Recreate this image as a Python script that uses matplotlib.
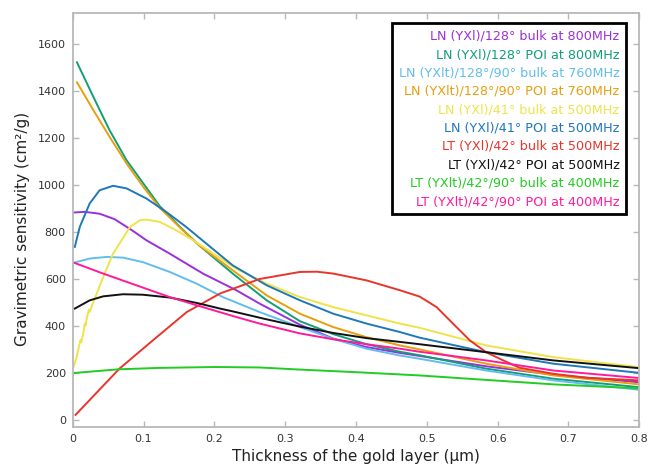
import matplotlib
matplotlib.use('Agg')
import matplotlib.pyplot as plt

# thickness of the gold layer (um) and gravimetric sensitivity (cm2/g)
ln128_bulk_x = [0.0, 0.017, 0.038, 0.059, 0.085, 0.104, 0.137, 0.184, 0.231, 0.264, 0.321, 0.368, 0.415, 0.462, 0.49, 0.584, 0.679, 0.8]
ln128_bulk_y = [883, 886, 878, 855, 805, 765, 708, 623, 552, 495, 405, 346, 310, 285, 272, 228, 192, 160]

ln128_poi_x = [0.006, 0.029, 0.052, 0.076, 0.099, 0.123, 0.156, 0.179, 0.226, 0.274, 0.321, 0.368, 0.415, 0.462, 0.49, 0.584, 0.679, 0.8]
ln128_poi_y = [1523, 1377, 1234, 1106, 1010, 910, 808, 742, 623, 509, 420, 365, 322, 290, 275, 218, 175, 139]

ln128_90_bulk_x = [0.0, 0.024, 0.048, 0.071, 0.099, 0.137, 0.175, 0.212, 0.264, 0.321, 0.368, 0.415, 0.462, 0.49, 0.584, 0.679, 0.8]
ln128_90_bulk_y = [668, 687, 694, 691, 672, 630, 580, 523, 459, 395, 345, 303, 274, 260, 210, 168, 128]

ln128_90_poi_x = [0.006, 0.029, 0.052, 0.076, 0.099, 0.123, 0.156, 0.179, 0.226, 0.274, 0.321, 0.368, 0.415, 0.462, 0.49, 0.584, 0.679, 0.8]
ln128_90_poi_y = [1438, 1320, 1206, 1092, 995, 903, 806, 742, 637, 530, 452, 395, 352, 317, 300, 239, 189, 151]

ln41_bulk_x = [0.001, 0.005, 0.009, 0.011, 0.012, 0.015, 0.017, 0.018, 0.020, 0.023, 0.024, 0.029, 0.043, 0.057,
               0.069, 0.081, 0.095, 0.104, 0.123, 0.146, 0.17, 0.231, 0.274, 0.321, 0.368, 0.415, 0.462, 0.49, 0.584, 0.679, 0.8]
ln41_bulk_y = [225, 260, 315, 340, 330, 370, 410, 400, 435, 470, 460, 500, 608, 708,
               765, 822, 850, 853, 843, 808, 765, 644, 580, 523, 480, 445, 410, 392, 317, 267, 224]

ln41_poi_x = [0.003, 0.01, 0.024, 0.038, 0.057, 0.076, 0.104, 0.132, 0.161, 0.179, 0.226, 0.274, 0.321, 0.368, 0.415, 0.462, 0.49, 0.584, 0.679, 0.8]
ln41_poi_y = [737, 822, 922, 978, 997, 986, 943, 886, 820, 775, 658, 573, 509, 452, 410, 374, 350, 288, 239, 200]

lt42_bulk_x = [0.004, 0.066, 0.113, 0.161, 0.208, 0.264, 0.321, 0.345, 0.368, 0.415, 0.462, 0.49, 0.514, 0.537, 0.561, 0.584, 0.608, 0.631, 0.679, 0.726, 0.8]
lt42_bulk_y = [21, 218, 338, 459, 538, 600, 630, 631, 623, 594, 552, 525, 480, 410, 338, 288, 253, 222, 196, 179, 168]

lt42_poi_x = [0.003, 0.024, 0.043, 0.071, 0.099, 0.137, 0.175, 0.208, 0.226, 0.274, 0.321, 0.368, 0.415, 0.462, 0.49, 0.584, 0.679, 0.8]
lt42_poi_y = [474, 509, 526, 535, 533, 521, 498, 474, 462, 428, 397, 370, 348, 332, 322, 288, 253, 220]

lt42_90_bulk_x = [0.0, 0.064, 0.12, 0.2, 0.264, 0.321, 0.4, 0.49, 0.584, 0.679, 0.8]
lt42_90_bulk_y = [199, 215, 221, 225, 223, 214, 203, 189, 170, 151, 134]

lt42_90_poi_x = [0.003, 0.043, 0.09, 0.137, 0.184, 0.231, 0.264, 0.321, 0.368, 0.415, 0.462, 0.49, 0.584, 0.679, 0.8]
lt42_90_poi_y = [668, 623, 573, 523, 480, 438, 410, 368, 343, 322, 303, 290, 253, 210, 178]

labels = ['LN (YXl)/128° bulk at 800MHz',
          'LN (YXl)/128° POI at 800MHz',
          'LN (YXlt)/128°/90° bulk at 760MHz',
          'LN (YXlt)/128°/90° POI at 760MHz',
          'LN (YXl)/41° bulk at 500MHz',
          'LN (YXl)/41° POI at 500MHz',
          'LT (YXl)/42° bulk at 500MHz',
          'LT (YXl)/42° POI at 500MHz',
          'LT (YXlt)/42°/90° bulk at 400MHz',
          'LT (YXlt)/42°/90° POI at 400MHz']
colors = ['#9b2fdc', '#119e78', '#62bdee', '#e69f0f', '#f0e24a',
          '#1f78b8', '#e8352b', '#111111', '#22cc22', '#ff1a9c']

series = [(ln128_bulk_x, ln128_bulk_y), (ln128_poi_x, ln128_poi_y),
          (ln128_90_bulk_x, ln128_90_bulk_y), (ln128_90_poi_x, ln128_90_poi_y),
          (ln41_bulk_x, ln41_bulk_y), (ln41_poi_x, ln41_poi_y),
          (lt42_bulk_x, lt42_bulk_y), (lt42_poi_x, lt42_poi_y),
          (lt42_90_bulk_x, lt42_90_bulk_y), (lt42_90_poi_x, lt42_90_poi_y)]

x_ticks = [0, 0.1, 0.2, 0.3, 0.4, 0.5, 0.6, 0.7, 0.8]
x_tick_labels = ['0', '0.1', '0.2', '0.3', '0.4', '0.5', '0.6', '0.7', '0.8']
y_ticks = [0, 200, 400, 600, 800, 1000, 1200, 1400, 1600]


def main():
    fig = plt.figure(figsize=(6.61, 4.66), dpi=100)
    ax = fig.add_axes([0.110, 0.084, 0.857, 0.889])

    for (xs, ys), lab, col in zip(series, labels, colors):
        ax.plot(xs, ys, color=col, lw=1.4, label=lab)

    ax.set_xlim(0, 0.8)
    ax.set_ylim(-30, 1735)
    ax.set_xticks(x_ticks)
    ax.set_xticklabels(x_tick_labels)
    ax.set_yticks(y_ticks)

    for sp in ax.spines.values():
        sp.set_color('#b8b8b8')
        sp.set_linewidth(1.3)
    ax.tick_params(direction='in', top=True, right=True, length=4, width=1,
                   color='#b8b8b8', labelsize=8, labelcolor='#333333', pad=5)

    ax.set_xlabel('Thickness of the gold layer (µm)', fontsize=11, color='#222222', labelpad=4)
    ax.set_ylabel('Gravimetric sensitivity (cm²/g)', fontsize=11, color='#222222')
    ax.yaxis.set_label_coords(-0.076, 0.478)

    leg = ax.legend(loc='upper right', bbox_to_anchor=(0.9765, 0.974), borderaxespad=0,
                    handlelength=0, handletextpad=0, markerfirst=False, fancybox=False,
                    framealpha=1, fontsize=9.2, labelspacing=0.42, borderpad=0.5)
    leg.get_frame().set_edgecolor('black')
    leg.get_frame().set_linewidth(2)
    for txt, col in zip(leg.get_texts(), colors):
        txt.set_color(col)
    for h in leg.legend_handles:
        h.set_visible(False)

    fig.savefig('out.png', dpi=100)


if __name__ == '__main__':
    main()
